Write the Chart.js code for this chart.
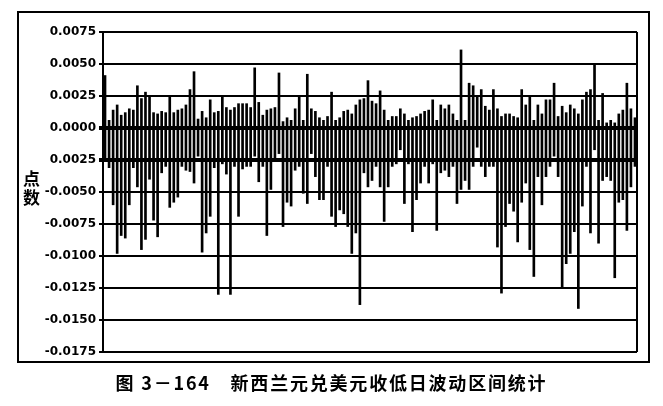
<!DOCTYPE html>
<html>
<head>
<meta charset="utf-8">
<script src="https://cdn.jsdelivr.net/npm/chart.js@4"></script>
<style>
  body { margin: 0; background: #fff; }
  #wrap { position: relative; width: 663px; height: 406px; }
  #frame { position: absolute; left: 17px; top: 11px; width: 633px; height: 352px;
    border: 2px solid #000; box-sizing: border-box; }
  #chart { position: absolute; left: 0; top: 0; }
  #ytitle { position: absolute; left: 23px; top: 168px; font: bold 17px "Noto Sans CJK SC";
    line-height: 19px; color: #000; }
  #caption { position: absolute; left: 0; top: 369px; width: 663px; text-align: center;
    font: bold 18px "Noto Sans CJK SC"; letter-spacing: 1.8px; color: #000; }
</style>
</head>
<body>
<div id="wrap">
  <div id="frame"></div>
  <canvas id="chart" width="663" height="406"></canvas>
  <div id="ytitle">点<br>数</div>
  <div id="caption">图 3－164　新西兰元兑美元收低日波动区间统计</div>
</div>
<script>
// daily high / low relative to open, for down-close days
const highs = [
  .0041, .0006, .0014, .0018, .0010, .0012, .0015, .0014, .0033, .0023,
  .0028, .0024, .0012, .0011, .0013, .0012, .0024, .0012, .0014, .0015,
  .0018, .0030, .0044, .0007, .0013, .0008, .0022, .0012, .0013, .0024,
  .0016, .0014, .0016, .0019, .0019, .0019, .0016, .0047, .0020, .0010,
  .0014, .0015, .0016, .0043, .0005, .0008,
  .0006, .0015, .0024, .0006, .0042, .0015, .0013, .0008, .0006, .0009,
  .0028, .0006, .0008, .0013, .0014, .0011, .0018, .0022, .0023, .0037,
  .0021, .0019, .0029, .0014, .0006, .0009, .0009, .0015, .0011, .0006,
  .0008, .0009, .0011, .0013, .0014, .0022, .0006, .0018, .0015, .0018,
  .0011, .0006,
  .0061, .0006, .0035, .0033, .0024, .0030, .0017, .0014, .0030, .0015,
  .0009, .0011, .0011, .0009, .0008, .0030, .0018, .0024, .0006, .0018,
  .0011, .0022, .0022, .0035, .0009, .0017, .0012, .0018, .0015, .0011,
  .0022, .0028, .0030, .0049, .0006, .0027, .0004, .0006, .0004, .0011,
  .0014, .0035, .0015, .0008
];
const lows = [
  -.0026, -.0031, -.0060, -.0098, -.0084, -.0086, -.0060, -.0031, -.0046, -.0095,
  -.0087, -.0040, -.0072, -.0085, -.0035, -.0030, -.0062, -.0058, -.0054, -.0030,
  -.0033, -.0034, -.0043, -.0022, -.0097, -.0082, -.0069, -.0031, -.0130, -.0028,
  -.0036, -.0130, -.0030, -.0069, -.0032, -.0030, -.0030, -.0022, -.0042, -.0030,
  -.0084, -.0048, -.0026, -.0020, -.0077, -.0058,
  -.0061, -.0033, -.0030, -.0051, -.0059, -.0020, -.0038, -.0056, -.0056, -.0030,
  -.0069, -.0077, -.0064, -.0067, -.0077, -.0098, -.0082, -.0138, -.0035, -.0046,
  -.0041, -.0030, -.0046, -.0073, -.0046, -.0030, -.0028, -.0017, -.0059, -.0028,
  -.0081, -.0056, -.0043, -.0030, -.0043, -.0028, -.0080, -.0035, -.0033, -.0038,
  -.0030, -.0059,
  -.0048, -.0041, -.0048, -.0030, -.0015, -.0030, -.0038, -.0030, -.0030, -.0093,
  -.0129, -.0077, -.0059, -.0065, -.0089, -.0058, -.0043, -.0095, -.0116, -.0038,
  -.0060, -.0038, -.0030, -.0022, -.0038, -.0124, -.0106, -.0098, -.0081, -.0141,
  -.0061, -.0030, -.0082, -.0017, -.0090, -.0041, -.0038, -.0041, -.0117, -.0058,
  -.0056, -.0080, -.0046, -.0030
];
const days = highs.map((_, i) => String(i + 1));

const tickValues = [-0.0175, -0.015, -0.0125, -0.01, -0.0075, -0.005, -0.0025, 0, 0.0025, 0.005, 0.0075];
const tickLabels = ['-0.0175', '-0.0150', '-0.0125', '-0.0100', '-0.0075', '-0.0050', '0.0025', '0.0000', '0.0025', '0.0050', '0.0075'];

// right edge of the plot box
const rightEdge = {
  id: 'rightEdge',
  afterDraw(chart) {
    const { ctx, chartArea } = chart;
    ctx.save();
    ctx.strokeStyle = '#000';
    ctx.lineWidth = 2;
    ctx.beginPath();
    ctx.moveTo(chartArea.right, chartArea.top);
    ctx.lineTo(chartArea.right, chartArea.bottom);
    ctx.stroke();
    ctx.restore();
  }
};

new Chart(document.getElementById('chart').getContext('2d'), {
  type: 'bar',
  data: {
    labels: days,
    datasets: [{
      data: highs.map((h, i) => [lows[i], h]),
      backgroundColor: '#000',
      barThickness: 2
    }]
  },
  options: {
    responsive: false,
    animation: false,
    layout: { padding: { left: 0, top: 32, right: 26, bottom: 54 } },
    plugins: { legend: { display: false }, tooltip: { enabled: false } },
    scales: {
      x: { display: false, offset: true },
      y: {
        min: -0.0175,
        max: 0.0075,
        afterFit(scale) { scale.width = 103; },
        afterBuildTicks(scale) { scale.ticks = tickValues.map(v => ({ value: v })); },
        ticks: {
          color: '#000',
          padding: 3,
          font: { family: 'DejaVu Sans', size: 12, weight: 'bold' },
          callback: (v, i) => tickLabels[i]
        },
        grid: {
          color: '#000',
          lineWidth: c => (c.tick && (c.tick.value === 0 || c.tick.value === -0.0025)) ? 4 : 2,
          tickLength: 4
        },
        border: { color: '#000', width: 2 }
      }
    }
  },
  plugins: [rightEdge]
});
</script>
</body>
</html>
